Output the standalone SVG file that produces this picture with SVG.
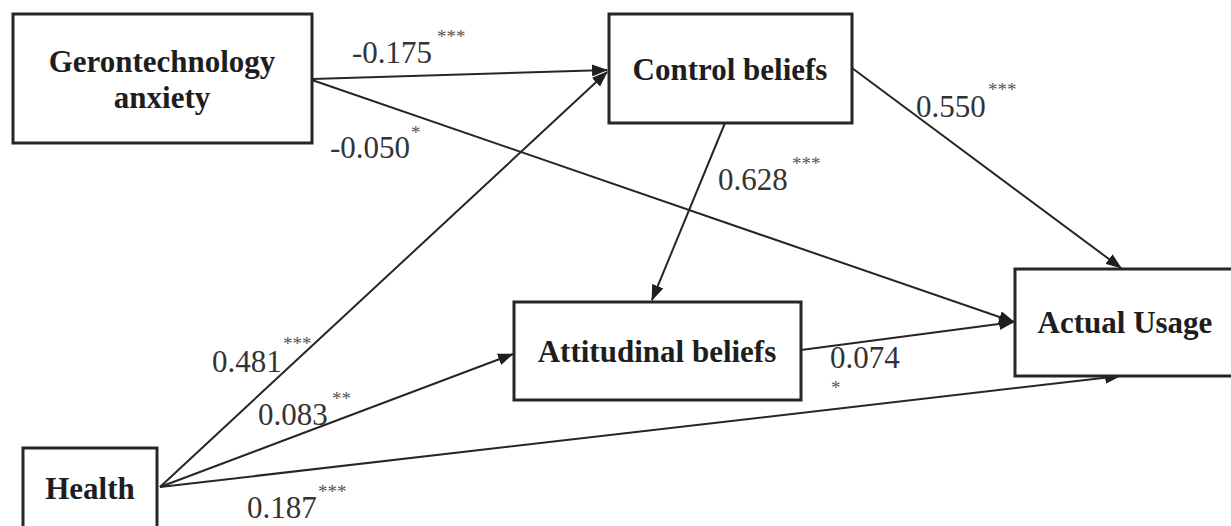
<svg xmlns="http://www.w3.org/2000/svg" width="1231" height="526" viewBox="0 0 1231 526">
<defs>
<marker id="arr" viewBox="0 0 16 12" refX="15" refY="6" markerWidth="16" markerHeight="12" markerUnits="userSpaceOnUse" orient="auto">
<path d="M0,0 L16,6 L0,12 Z" fill="#1f1f1f"/>
</marker>
</defs>
<style>
.box{fill:#fff;stroke:#262626;stroke-width:3}
.nt{font-family:"Liberation Serif","Times New Roman",serif;font-weight:bold;font-size:31px;fill:#1e1e1e;text-anchor:middle}
.num{font-family:"Liberation Serif","Times New Roman",serif;font-size:31px;fill:#333}
.st{font-family:"Liberation Serif","Times New Roman",serif;font-size:19px;fill:#555}
.ln{stroke:#262626;stroke-width:2;fill:none;marker-end:url(#arr)}
</style>
<rect width="1231" height="526" fill="#fff"/>
<g id="connectors">
<line class="ln" x1="312" y1="79" x2="607" y2="70"/>
<line class="ln" x1="312" y1="80" x2="1014" y2="322"/>
<line class="ln" x1="852" y1="68" x2="1121" y2="268"/>
<line class="ln" x1="725" y1="123" x2="652" y2="300"/>
<line class="ln" x1="801" y1="350" x2="1014" y2="322"/>
<line class="ln" x1="160" y1="487" x2="607" y2="72"/>
<line class="ln" x1="160" y1="487" x2="513" y2="354"/>
<line class="ln" x1="160" y1="487" x2="1120" y2="376"/>
</g>
<g id="node-gerontechnology">
<rect class="box" x="13" y="14" width="299" height="129"/>
<text class="nt" x="162" y="72">Gerontechnology</text>
<text class="nt" x="162" y="108">anxiety</text>
</g>
<g id="node-control">
<rect class="box" x="609" y="14" width="243" height="109"/>
<text class="nt" x="730" y="80">Control beliefs</text>
</g>
<g id="node-attitudinal">
<rect class="box" x="514" y="302" width="287" height="98"/>
<text class="nt" x="657" y="362">Attitudinal beliefs</text>
</g>
<g id="node-actual">
<rect class="box" x="1015" y="269" width="230" height="107"/>
<text class="nt" x="1125" y="333">Actual Usage</text>
</g>
<g id="node-health">
<rect class="box" x="23" y="448" width="134" height="100"/>
<text class="nt" x="90" y="499">Health</text>
</g>
<g id="labels">
<text class="num" x="352" y="63">-0.175</text><text class="st" x="437" y="43">***</text>
<text class="num" x="330" y="158">-0.050</text><text class="st" x="411" y="139">*</text>
<text class="num" x="916" y="117">0.550</text><text class="st" x="988" y="96">***</text>
<text class="num" x="718" y="190">0.628</text><text class="st" x="792" y="170">***</text>
<text class="num" x="212" y="372">0.481</text><text class="st" x="283" y="350">***</text>
<text class="num" x="258" y="425">0.083</text><text class="st" x="332" y="405">**</text>
<text class="num" x="830" y="368">0.074</text><text class="st" x="831" y="394">*</text>
<text class="num" x="247" y="518">0.187</text><text class="st" x="318" y="498">***</text>
</g>
</svg>
